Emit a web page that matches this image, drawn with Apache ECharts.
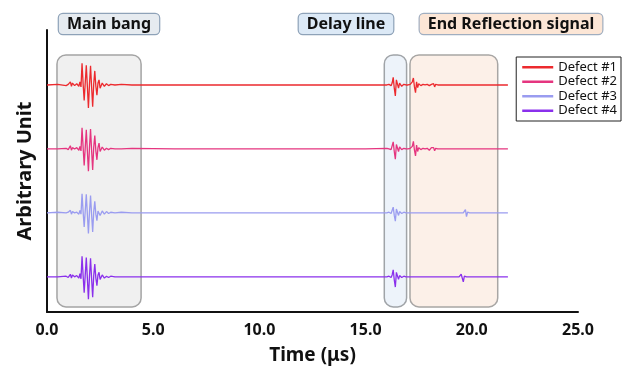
<!DOCTYPE html>
<html>
<head>
<meta charset="utf-8">
<script src="https://cdn.jsdelivr.net/npm/echarts@6/dist/echarts.min.js"></script>
<style>html,body{margin:0;padding:0;background:#fff}#c{width:625px;height:377px}</style>
</head>
<body>
<div id="c"></div>
<script>
// ---- DATA ----
const seriesNames = ['Defect #1', 'Defect #2', 'Defect #3', 'Defect #4'];
const traceOffsets = [3, 2, 1, 0];
const xTicks = [0, 5, 10, 15, 20, 25];

const timeUs = [
  0, 0.5, 0.9, 1.0, 1.1, 1.15, 1.2, 1.3, 1.4, 1.5,
  1.55, 1.6, 1.65, 1.7, 1.75, 1.8, 1.85, 1.9, 1.95, 2.0,
  2.05, 2.1, 2.15, 2.2, 2.25, 2.3, 2.35, 2.4, 2.45, 2.5,
  2.6, 2.7, 2.8, 2.9, 3.0, 3.2, 3.5, 4.0, 6.0, 9.0,
  12.0, 15.0, 16.0, 16.1, 16.2, 16.25, 16.3, 16.35, 16.4, 16.45,
  16.5, 16.55, 16.6, 16.7, 16.8, 16.9, 17.0, 17.1, 17.15, 17.2,
  17.25, 17.3, 17.35, 17.4, 17.45, 17.5, 17.6, 17.7, 17.8, 17.9,
  18.0, 18.1, 18.2, 18.25, 18.3, 18.4, 18.6, 19.0, 19.4, 19.5,
  19.55, 19.6, 19.65, 19.7, 19.75, 19.8, 19.9, 20.0, 20.5, 21.0,
  21.7
];

const defect1 = [
  0, 0.01, -0.01, 0.01, 0.05, -0.02, 0.03, -0.01, 0.02, -0.02,
  0.05, -0.03, 0.34, 0.02, -0.24, 0.03, 0.31, -0.02, -0.36, 0.01,
  0.30, -0.03, -0.34, 0.02, 0.22, -0.02, -0.16, 0.03, 0.08, -0.05,
  0.03, -0.02, 0.02, -0.01, 0.01, 0, 0.01, 0, 0, 0,
  0, 0, 0, 0.01, -0.01, 0.03, 0.12, -0.05, -0.17, 0.08,
  0.09, -0.05, 0.03, -0.02, 0.01, 0, 0, 0.01, -0.02, 0.05,
  0.11, -0.03, -0.12, 0.05, -0.04, 0.02, -0.01, 0.01, 0, 0.01,
  -0.01, 0.01, 0.02, -0.03, 0.01, 0, 0, 0, 0, 0,
  0, 0, 0, 0, 0, 0, 0, 0, 0, 0,
  0
];
const defect2 = [
  0, 0, 0.01, -0.01, 0.05, -0.02, 0.02, 0, 0.02, -0.02,
  0.04, -0.03, 0.33, 0.03, -0.26, 0.02, 0.30, -0.03, -0.35, 0.02,
  0.31, -0.02, -0.33, 0.03, 0.21, -0.03, -0.17, 0.02, 0.09, -0.04,
  0.03, -0.02, 0.01, -0.01, 0.01, 0, 0, 0.01, 0, 0,
  0, 0, 0.01, 0, -0.01, 0.02, 0.11, -0.04, -0.16, 0.07,
  0.08, -0.04, 0.03, -0.01, 0.01, 0, 0, 0.01, -0.01, 0.04,
  0.12, -0.02, -0.11, 0.06, -0.04, 0.02, -0.01, 0.01, 0, 0.01,
  -0.02, 0.02, 0.02, -0.03, 0.01, 0, 0, 0, 0, 0,
  0, 0, 0, 0, 0, 0, 0, 0, 0, 0,
  0
];
const defect3 = [
  0, 0.01, 0, 0.01, 0.04, -0.02, 0.02, 0, 0.01, -0.02,
  0.04, -0.02, 0.30, 0.02, -0.22, 0.03, 0.29, -0.02, -0.32, 0.01,
  0.27, -0.03, -0.30, 0.02, 0.18, -0.02, -0.12, 0.03, 0.06, -0.04,
  0.03, -0.02, 0.02, -0.01, 0.01, 0, 0.01, 0, 0, 0,
  0, 0, 0, 0.01, -0.01, 0.02, 0.09, -0.04, -0.13, 0.06,
  0.07, -0.04, 0.02, -0.01, 0.01, 0, 0, 0, 0, 0,
  0, 0, 0, 0, 0, 0, 0, 0, 0, 0,
  0, 0, 0, 0, 0, 0, 0, 0, 0, 0,
  0, 0, 0.02, 0.05, -0.06, 0.01, 0, 0, 0, 0,
  0
];
const defect4 = [
  0, 0, 0.01, -0.01, 0.04, -0.02, 0.03, 0, 0.02, -0.02,
  0.05, -0.03, 0.32, 0.02, -0.25, 0.03, 0.30, -0.02, -0.35, 0.01,
  0.29, -0.03, -0.32, 0.02, 0.20, -0.02, -0.14, 0.03, 0.07, -0.04,
  0.03, -0.02, 0.01, -0.01, 0.01, 0, 0, 0, 0, 0,
  0, 0, 0, 0.01, -0.01, 0.03, 0.11, -0.05, -0.16, 0.07,
  0.07, -0.04, 0.02, -0.01, 0.01, 0, 0, 0, 0, 0,
  0, 0, 0, 0, 0, 0, 0, 0, 0, 0,
  0, 0, 0, 0, 0, 0, 0, 0, 0, 0.04,
  0.01, -0.08, 0.01, 0.01, 0, 0, 0, 0, 0, 0,
  0
];
const traces = [defect1, defect2, defect3, defect4];

// highlighted regions (time range in µs, vertical range in trace units)
const regionNames = ['Main bang', 'Delay line', 'End Reflection signal'];
const regionStart = [0.47, 15.88, 17.09];
const regionEnd = [4.43, 16.93, 21.22];
const regionLow = [-0.47, -0.47, -0.47];
const regionHigh = [3.47, 3.47, 3.47];

// ---- STYLE ----
const colors = ['#ec2a2e', '#e5357f', '#9a9cf0', '#8a30ec'];
const regionFill = ['#f0f0f0', '#edf3fa', '#fcf0e8'];
const regionStroke = ['#a4a4a4', '#a0a4a8', '#a8a6a4'];
const FONT = "'Noto Sans', 'DejaVu Sans', sans-serif";

const chart = echarts.init(document.getElementById('c'), null, {renderer: 'canvas'});

const lineSeries = traces.map((vals, i) => ({
  name: seriesNames[i],
  type: 'line',
  symbol: 'none',
  z: 3,
  lineStyle: {color: colors[i], width: 1.3},
  itemStyle: {color: colors[i]},
  data: timeUs.map((t, k) => [t, vals[k] + traceOffsets[i]])
}));

const boxSeries = {
  type: 'custom',
  z: 1,
  silent: true,
  clip: false,
  encode: {x: [0, 1], y: [2, 3]},
  data: regionStart.map((s, i) => [s, regionEnd[i], regionLow[i], regionHigh[i]]),
  renderItem: function (params, api) {
    const i = params.dataIndex;
    const p0 = api.coord([api.value(0), api.value(3)]);
    const p1 = api.coord([api.value(1), api.value(2)]);
    return {
      type: 'rect',
      shape: {x: p0[0], y: p0[1], width: p1[0] - p0[0], height: p1[1] - p0[1], r: 9},
      style: {fill: regionFill[i], stroke: regionStroke[i], lineWidth: 1.5}
    };
  }
};

function tag(text, cx, bg, border) {
  return {
    type: 'text', x: cx, y: 24, z: 10,
    style: {
      text: text, align: 'center', verticalAlign: 'middle',
      font: 'bold 16px ' + FONT, fill: '#111',
      backgroundColor: bg, borderColor: border, borderWidth: 1.2,
      borderRadius: 4, padding: [2, 8, 2, 8]
    }
  };
}

chart.setOption({
  backgroundColor: '#fff',
  animation: false,
  grid: {left: 47, right: 47, top: 30, bottom: 65, containLabel: false},
  xAxis: {
    type: 'value', min: 0, max: 25, interval: 5,
    axisLine: {show: true, onZero: false, lineStyle: {color: '#111', width: 2}},
    axisTick: {show: false},
    splitLine: {show: false},
    axisLabel: {
      formatter: v => (xTicks.indexOf(v) >= 0 ? v.toFixed(1) : ''),
      fontFamily: FONT, fontWeight: 'bold', fontSize: 16, color: '#111', margin: 10
    },
    name: 'Time (μs)', nameLocation: 'middle', nameGap: 34,
    nameTextStyle: {fontFamily: FONT, fontWeight: 'bold', fontSize: 19, color: '#111'}
  },
  yAxis: {
    type: 'value', min: -0.55, max: 3.86,
    axisLine: {show: true, onZero: false, lineStyle: {color: '#111', width: 2}},
    axisTick: {show: false}, axisLabel: {show: false}, splitLine: {show: false},
    name: 'Arbitrary Unit', nameLocation: 'middle', nameGap: 12,
    nameTextStyle: {fontFamily: FONT, fontWeight: 'bold', fontSize: 20, color: '#111'}
  },
  legend: {
    data: seriesNames,
    orient: 'vertical', right: 4, top: 57,
    borderColor: '#222', borderWidth: 1, borderRadius: 0,
    padding: [3, 4, 3, 6], itemGap: 0,
    icon: 'rect', itemWidth: 31, itemHeight: 2.5,
    textStyle: {fontFamily: FONT, fontSize: 13, color: '#111', lineHeight: 14.5}
  },
  graphic: [
    tag(regionNames[0], 109, '#e6ebf0', '#8ea2b8'),
    tag(regionNames[1], 346, '#dce9f6', '#8ea2b8'),
    tag(regionNames[2], 511, '#fce6d6', '#a0aec0')
  ],
  series: [boxSeries].concat(lineSeries)
});
</script>
</body>
</html>
